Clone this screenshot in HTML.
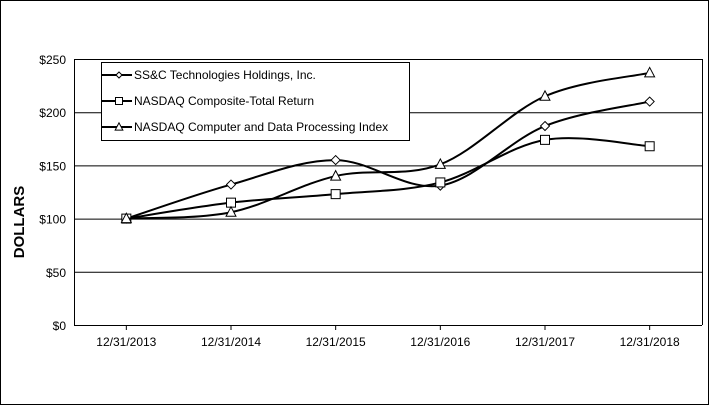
<!DOCTYPE html>
<html><head><meta charset="utf-8"><style>
body{margin:0;background:#fff}
svg text{font-family:"Liberation Sans",Arial,sans-serif}
</style></head><body>
<svg id="chart" width="709" height="405" xmlns="http://www.w3.org/2000/svg">
<rect x="0.5" y="0.5" width="708" height="404" fill="#fff" stroke="#000"/>
<g id="grid"></g>
<g id="yticks"></g>
<g id="xticks"></g>
<text x="24" y="222" font-size="15" font-weight="bold" text-anchor="middle" transform="rotate(-90 24 222)">DOLLARS</text>
<g id="series"></g>
<g>
<rect x="101.5" y="62.5" width="308" height="78" fill="#fff" stroke="#000"/>
<g id="legend"></g>
</g>
</svg>
<script>
const categories=["12/31/2013","12/31/2014","12/31/2015","12/31/2016","12/31/2017","12/31/2018"];
const ssc=[100,132,155,131,187,210];
const nasdaq=[100,115,123,134,174,168];
const computer=[100,106,140,151,215,237];
const yTicks=[0,50,100,150,200,250];
const seriesNames=["SS&C Technologies Holdings, Inc.","NASDAQ Composite-Total Return","NASDAQ Computer and Data Processing Index"];

const NS="http://www.w3.org/2000/svg";
const L=74,R=702,T=59,B=325;
const x=i=>L+(R-L)*(i+0.5)/categories.length;
const y=v=>B-(B-T)*v/250;
function mk(tag,attrs,parent){const e=document.createElementNS(NS,tag);for(const k in attrs)e.setAttribute(k,attrs[k]);parent.appendChild(e);return e;}
const grid=document.getElementById('grid'),yt=document.getElementById('yticks'),xt=document.getElementById('xticks');
yTicks.forEach(v=>{
  const ln=mk('line',{x1:L,x2:R,y1:y(v)+0.5,y2:y(v)+0.5,stroke:'#000','stroke-width':1},grid);
  
  
  const t=mk('text',{x:L-8,y:y(v)+5,'font-size':12,'text-anchor':'end'},yt);
  t.textContent='$'+v;
  
  
});
mk('line',{x1:L+0.5,x2:L+0.5,y1:T,y2:B,stroke:'#000'},grid);
mk('line',{x1:R+0.5,x2:R+0.5,y1:T,y2:B,stroke:'#000'},grid);
categories.forEach((c,i)=>{
  const t=mk('text',{x:x(i),y:B+21,'font-size':12,'text-anchor':'middle'},xt);
  t.textContent=c;
  
  
  mk('line',{x1:x(i),x2:x(i),y1:B,y2:B+5,stroke:'#000'},xt);
});
function marker(type,cx,cy,s,parent){
  if(type==='d')return mk('path',{d:`M${cx} ${cy-s}L${cx+s} ${cy}L${cx} ${cy+s}L${cx-s} ${cy}Z`,fill:'#fff',stroke:'#000'},parent);
  if(type==='s')return mk('rect',{x:cx-s,y:cy-s,width:2*s,height:2*s,fill:'#fff',stroke:'#000'},parent);
  return mk('path',{d:`M${cx} ${cy-s*1.2}L${cx+s*1.1} ${cy+s*0.9}L${cx-s*1.1} ${cy+s*0.9}Z`,fill:'#fff',stroke:'#000'},parent);
}
function smooth(pts){
  let d=`M${pts[0][0]} ${pts[0][1]}`;
  for(let i=0;i<pts.length-1;i++){
    const p0=pts[i-1]||pts[i],p1=pts[i],p2=pts[i+1],p3=pts[i+2]||p2;
    const c1=[p1[0]+(p2[0]-p0[0])/6,p1[1]+(p2[1]-p0[1])/6];
    const c2=[p2[0]-(p3[0]-p1[0])/6,p2[1]-(p3[1]-p1[1])/6];
    d+=`C${c1[0]} ${c1[1]} ${c2[0]} ${c2[1]} ${p2[0]} ${p2[1]}`;
  }
  return d;
}
const sg=document.getElementById('series');
[[ssc,'d','ssc'],[nasdaq,'s','nasdaq-composite'],[computer,'t','nasdaq-computer']].forEach(([vals,m,nm])=>{
  const g=mk('g',{},sg);
  
  
  const pts=vals.map((v,i)=>[x(i),y(v)]);
  const p=mk('path',{d:smooth(pts),fill:'none',stroke:'#000','stroke-width':2},g);
  
  
  pts.forEach(pt=>{
    const mm=marker(m,pt[0],pt[1],m==='d'?4.5:4.5,g);
    
    
  });
});
const lg=document.getElementById('legend');
['d','s','t'].forEach((m,i)=>{
  const cy=75+i*26;
  const g=mk('g',{},lg);
  
  
  mk('line',{x1:101,x2:132,y1:cy,y2:cy,stroke:'#000','stroke-width':2},g);
  marker(m,119,cy,m==='d'?3:3.5,g);
  const t=mk('text',{x:134,y:cy+4,'font-size':12},g);
  t.textContent=seriesNames[i];
});
</script>
</body></html>
